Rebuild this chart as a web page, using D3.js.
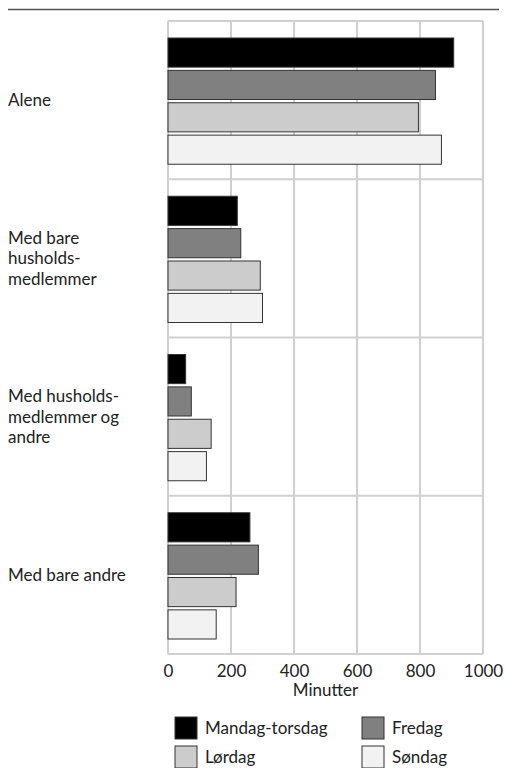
<!DOCTYPE html>
<html>
<head>
<meta charset="utf-8">
<script src="https://cdn.jsdelivr.net/npm/d3@7"></script>
<style>
  body { margin: 0; background: #fff; }
  svg { display: block; font-family: Lato, "Open Sans", sans-serif; }
</style>
</head>
<body>
<div id="chart"></div>
<script>
const width = 505
const height = 768

// categories (label lines) and series
const categories = ["Alene", "Med bare husholdsmedlemmer", "Med husholdsmedlemmer og andre", "Med bare andre"]
const categoryLines = [
  ["Alene"],
  ["Med bare", "husholds-", "medlemmer"],
  ["Med husholds-", "medlemmer og", "andre"],
  ["Med bare andre"]
]
const series = ["Mandag-torsdag", "Fredag", "Lørdag", "Søndag"]
const colors = ["#000000", "#808080", "#cccccc", "#f2f2f2"]

// minutes per category, one array per series
const mandagTorsdag = [907, 220, 56, 260]
const fredag = [849, 231, 74, 287]
const lordag = [795, 293, 137, 216]
const sondag = [868, 300, 122, 153]
const values = [mandagTorsdag, fredag, lordag, sondag]

const xTicks = [0, 200, 400, 600, 800, 1000]

const margin = {top: 21, right: 22, bottom: 114, left: 168}
const fs = 17

const svg = d3.select("#chart").append("svg")
  .attr("width", width)
  .attr("height", height)

// top rule
svg.append("line")
  .attr("x1", 8).attr("x2", 499)
  .attr("y1", 9.5).attr("y2", 9.5)
  .attr("stroke", "#555")
  .attr("stroke-width", 1.5)

const x = d3.scaleLinear()
  .domain([0, 1000])
  .range([margin.left, width - margin.right])

const y = d3.scaleBand()
  .domain(categories)
  .range([margin.top, height - margin.bottom])

const yInner = d3.scaleBand()
  .domain(series)
  .range([17, y.bandwidth() - 15])
  .paddingInner(0.1)

// grid
const grid = svg.append("g")
grid.selectAll(".vgrid")
  .data(xTicks)
  .join("line")
  .attr("x1", d => x(d)).attr("x2", d => x(d))
  .attr("y1", margin.top).attr("y2", height - margin.bottom)
  .attr("stroke", "#d0d0d0")
  .attr("stroke-width", 2)

grid.selectAll(".hgrid")
  .data(categories.concat(["end"]))
  .join("line")
  .attr("x1", x(0)).attr("x2", x(1000))
  .attr("y1", (d, i) => i < categories.length ? y(d) : height - margin.bottom)
  .attr("y2", (d, i) => i < categories.length ? y(d) : height - margin.bottom)
  .attr("stroke", "#d0d0d0")
  .attr("stroke-width", 2)

// bars
series.forEach(function(s, si){
  svg.append("g").selectAll("rect")
    .data(values[si])
    .join("rect")
    .attr("x", x(0))
    .attr("y", (d, i) => y(categories[i]) + yInner(s))
    .attr("width", d => x(d) - x(0))
    .attr("height", yInner.bandwidth())
    .attr("fill", colors[si])
    .attr("stroke", "#333")
    .attr("stroke-width", 1)
})

// category labels
const lineH = 20.5
categories.forEach(function(c, i){
  let lines = categoryLines[i]
  let cy = y(c) + y.bandwidth() / 2
  let start = cy - (lines.length - 1) * lineH / 2
  svg.append("text")
    .attr("x", 8)
    .attr("font-size", fs)
    .attr("fill", "#222")
    .selectAll("tspan")
    .data(lines)
    .join("tspan")
    .attr("x", 8)
    .attr("y", (d, j) => start + j * lineH)
    .attr("dy", "0.35em")
    .text(d => d)
})

// x axis
const xAxis = svg.append("g")
  .attr("transform", `translate(0,${height - margin.bottom})`)
  .call(d3.axisBottom(x).tickValues(xTicks).tickFormat(d3.format("d")).tickSize(0).tickPadding(11))
xAxis.select(".domain").remove()
xAxis.selectAll("text")
  .attr("font-size", fs)
  .attr("font-family", "Lato, Open Sans, sans-serif")
  .attr("fill", "#222")

svg.append("text")
  .attr("x", x(500))
  .attr("y", 696)
  .attr("text-anchor", "middle")
  .attr("font-size", fs)
  .attr("fill", "#222")
  .text("Minutter")

// legend
const legendPos = [[175, 717], [362, 717], [175, 746], [362, 746]]
series.forEach(function(s, i){
  let g = svg.append("g").attr("transform", `translate(${legendPos[i][0]},${legendPos[i][1]})`)
  g.append("rect")
    .attr("width", 22).attr("height", 22)
    .attr("fill", colors[i])
    .attr("stroke", "#333")
    .attr("stroke-width", 1)
  g.append("text")
    .attr("x", 30)
    .attr("y", 11)
    .attr("dy", "0.35em")
    .attr("font-size", fs)
    .attr("fill", "#222")
    .text(s)
})
</script>
</body>
</html>
